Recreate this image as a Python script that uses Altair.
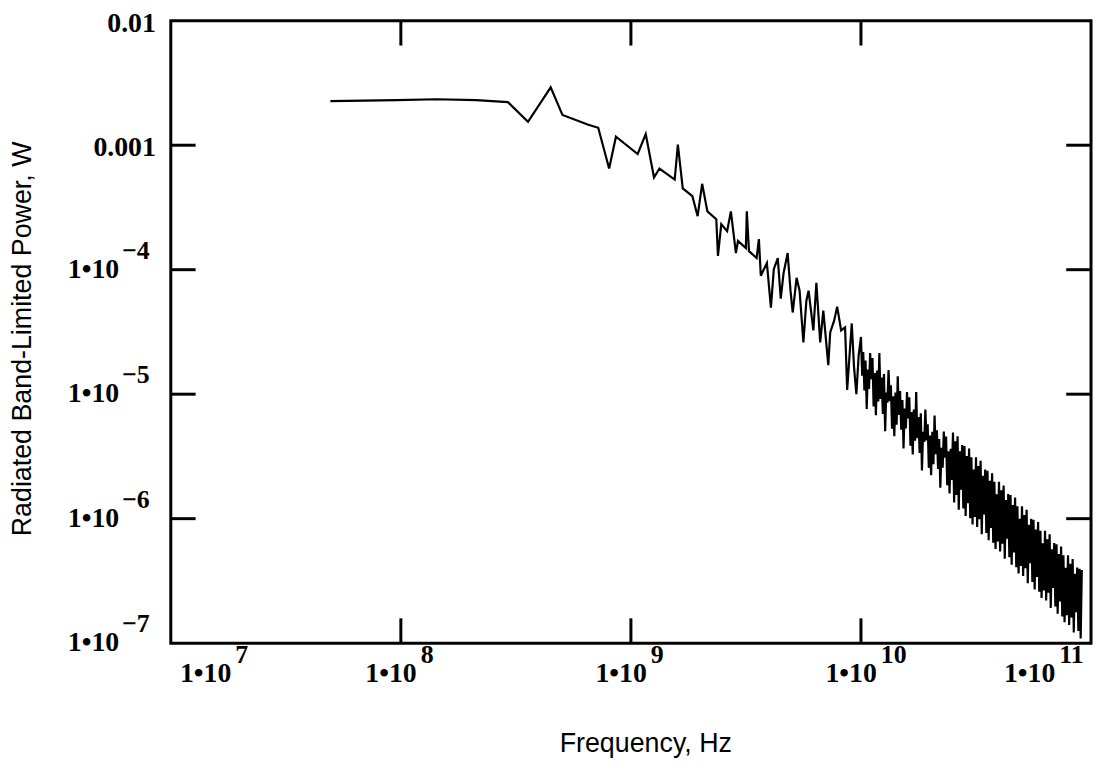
import altair as alt
import pandas as pd

# ---------------- data ----------------
# smooth low-frequency part of the trace
freq_low = [4.94e7, 9.6e7, 1.43e8, 2.13e8, 2.92e8, 3.57e8, 4.48e8, 5.04e8, 6.53e8, 7.21e8,
            8.04e8, 8.61e8, 1.07e9, 1.16e9, 1.26e9, 1.33e9, 1.55e9, 1.60e9, 1.68e9, 1.85e9,
            1.95e9, 2.04e9, 2.15e9, 2.35e9, 2.39e9, 2.47e9, 2.62e9, 2.72e9, 2.86e9, 2.92e9,
            3.16e9, 3.19e9]
power_low = [2.26e-3, 2.30e-3, 2.34e-3, 2.30e-3, 2.22e-3, 1.54e-3, 2.92e-3, 1.75e-3, 1.46e-3, 1.38e-3,
             6.5e-4, 1.17e-3, 8.5e-4, 1.23e-3, 5.5e-4, 6.5e-4, 5.3e-4, 1.01e-3, 4.5e-4, 3.9e-4,
             2.69e-4, 4.9e-4, 2.94e-4, 2.54e-4, 1.29e-4, 2.32e-4, 2.04e-4, 2.94e-4, 1.36e-4, 1.70e-4,
             1.49e-4, 2.94e-4]

# spiky middle part
freq_mid = [3.26e9, 3.52e9, 3.60e9, 3.67e9, 3.90e9, 4.06e9, 4.18e9, 4.35e9, 4.48e9, 4.61e9,
            4.80e9, 4.94e9, 5.05e9, 5.25e9, 5.41e9, 5.62e9, 5.79e9, 5.92e9, 6.21e9, 6.40e9,
            6.65e9, 6.86e9, 7.21e9, 7.35e9, 7.65e9, 7.88e9, 8.20e9, 8.53e9, 8.71e9,
            9.12e9, 9.33e9, 9.55e9, 9.77e9]
power_mid = [1.41e-4, 1.24e-4, 1.76e-4, 8.93e-5, 1.13e-4, 4.96e-5, 1.01e-4, 1.24e-4, 5.85e-5, 9.42e-5,
             1.36e-4, 6.78e-5, 4.53e-5, 8.61e-5, 6.78e-5, 2.61e-5, 5.64e-5, 6.78e-5, 3.25e-5, 7.85e-5,
             2.61e-5, 4.69e-5, 1.71e-5, 3.13e-5, 3.91e-5, 5.05e-5, 3.25e-5, 3.44e-5, 1.08e-5,
             3.70e-5, 1.65e-5, 1.00e-5, 2.04e-5]

# thick oscillating band, 10 GHz - 25 GHz
freq_high = [1.000e10, 1.012e10, 1.023e10, 1.035e10, 1.047e10, 1.059e10, 1.072e10, 1.084e10, 1.096e10, 1.109e10,
             1.122e10, 1.135e10, 1.148e10, 1.161e10, 1.175e10, 1.189e10, 1.202e10, 1.216e10, 1.230e10, 1.245e10,
             1.259e10, 1.274e10, 1.288e10, 1.303e10, 1.318e10, 1.334e10, 1.349e10, 1.365e10, 1.380e10, 1.396e10,
             1.413e10, 1.429e10, 1.445e10, 1.462e10, 1.479e10, 1.496e10, 1.514e10, 1.531e10, 1.549e10, 1.567e10,
             1.585e10, 1.603e10, 1.622e10, 1.641e10, 1.660e10, 1.679e10, 1.698e10, 1.718e10, 1.738e10, 1.758e10,
             1.778e10, 1.799e10, 1.820e10, 1.841e10, 1.862e10, 1.884e10, 1.905e10, 1.928e10, 1.950e10, 1.972e10,
             1.995e10, 2.018e10, 2.042e10, 2.065e10, 2.089e10, 2.113e10, 2.138e10, 2.163e10, 2.188e10, 2.213e10,
             2.239e10, 2.265e10, 2.291e10, 2.317e10, 2.344e10, 2.371e10, 2.399e10, 2.427e10, 2.455e10, 2.483e10]
power_high = [2.88e-5, 1.41e-5, 2.18e-5, 1.07e-5, 1.86e-5, 7.59e-6, 1.58e-5, 1.10e-5,
              2.14e-5, 1.32e-5, 1.95e-5, 7.96e-6, 1.48e-5, 6.78e-6, 1.55e-5, 8.73e-6,
              2.14e-5, 9.16e-6, 1.36e-5, 6.95e-6, 1.45e-5, 5.04e-6, 1.03e-5, 8.55e-6,
              1.56e-5, 8.77e-6, 1.18e-5, 5.28e-6, 9.62e-6, 4.60e-6, 1.03e-5, 5.68e-6,
              1.39e-5, 6.82e-6, 1.06e-5, 5.18e-6, 8.99e-6, 3.67e-6, 7.67e-6, 5.31e-6,
              1.04e-5, 6.38e-6, 9.44e-6, 3.85e-6, 7.18e-6, 3.28e-6, 7.52e-6, 4.23e-6,
              1.04e-5, 4.43e-6, 6.55e-6, 3.37e-6, 7.03e-6, 2.44e-6, 4.98e-6, 4.14e-6,
              7.53e-6, 4.25e-6, 5.73e-6, 2.56e-6, 4.66e-6, 2.23e-6, 4.99e-6, 2.74e-6,
              6.75e-6, 3.30e-6, 5.12e-6, 2.51e-6, 4.36e-6, 1.77e-6, 3.71e-6, 2.57e-6,
              5.01e-6, 3.09e-6, 4.57e-6, 1.86e-6, 3.47e-6, 1.59e-6, 3.64e-6, 2.05e-6]

# dense band, 25 GHz - 91 GHz
freq_tail = [2.512e10, 2.541e10, 2.570e10, 2.600e10, 2.630e10, 2.661e10, 2.692e10, 2.723e10, 2.754e10, 2.786e10,
             2.818e10, 2.851e10, 2.884e10, 2.917e10, 2.951e10, 2.985e10, 3.020e10, 3.055e10, 3.090e10, 3.126e10,
             3.162e10, 3.199e10, 3.236e10, 3.273e10, 3.311e10, 3.350e10, 3.388e10, 3.428e10, 3.467e10, 3.508e10,
             3.548e10, 3.589e10, 3.631e10, 3.673e10, 3.715e10, 3.758e10, 3.802e10, 3.846e10, 3.890e10, 3.936e10,
             3.981e10, 4.027e10, 4.074e10, 4.121e10, 4.169e10, 4.217e10, 4.266e10, 4.315e10, 4.365e10, 4.416e10,
             4.467e10, 4.519e10, 4.571e10, 4.624e10, 4.677e10, 4.732e10, 4.786e10, 4.842e10, 4.898e10, 4.955e10,
             5.012e10, 5.070e10, 5.129e10, 5.188e10, 5.248e10, 5.309e10, 5.370e10, 5.433e10, 5.495e10, 5.559e10,
             5.623e10, 5.689e10, 5.754e10, 5.821e10, 5.888e10, 5.957e10, 6.026e10, 6.095e10, 6.166e10, 6.237e10,
             6.310e10, 6.383e10, 6.457e10, 6.531e10, 6.607e10, 6.683e10, 6.761e10, 6.839e10, 6.918e10, 6.998e10,
             7.079e10, 7.161e10, 7.244e10, 7.328e10, 7.413e10, 7.499e10, 7.586e10, 7.674e10, 7.762e10, 7.852e10,
             7.943e10, 8.035e10, 8.128e10, 8.222e10, 8.318e10, 8.414e10, 8.511e10, 8.610e10, 8.710e10, 8.810e10,
             8.913e10, 9.016e10, 9.120e10]
power_tail = [4.91e-6, 1.35e-6, 4.18e-6, 1.55e-6, 4.59e-6, 1.18e-6, 3.48e-6, 1.71e-6, 3.91e-6, 1.21e-6,
              3.83e-6, 1.05e-6, 3.18e-6, 1.33e-6, 3.66e-6, 1.01e-6, 3.11e-6, 8.99e-7, 2.48e-6, 1.03e-6,
              3.12e-6, 8.59e-7, 2.65e-6, 9.89e-7, 2.92e-6, 7.50e-7, 2.21e-6, 1.08e-6, 2.48e-6, 7.69e-7,
              2.43e-6, 6.70e-7, 2.02e-6, 8.43e-7, 2.32e-6, 6.41e-7, 1.98e-6, 5.71e-7, 1.57e-6, 6.56e-7,
              1.98e-6, 5.46e-7, 1.69e-6, 6.28e-7, 1.85e-6, 4.76e-7, 1.41e-6, 6.89e-7, 1.58e-6, 4.89e-7,
              1.55e-6, 4.26e-7, 1.29e-6, 5.36e-7, 1.48e-6, 4.07e-7, 1.26e-6, 3.63e-7, 1.00e-6, 4.17e-7,
              1.26e-6, 3.47e-7, 1.07e-6, 3.99e-7, 1.18e-6, 3.03e-7, 8.93e-7, 4.38e-7, 1.00e-6, 3.10e-7,
              9.82e-7, 2.70e-7, 8.17e-7, 3.40e-7, 9.38e-7, 2.59e-7, 8.00e-7, 2.31e-7, 6.35e-7, 2.65e-7,
              8.00e-7, 2.20e-7, 6.82e-7, 2.54e-7, 7.48e-7, 1.92e-7, 5.68e-7, 2.78e-7, 6.37e-7, 1.97e-7,
              6.24e-7, 1.72e-7, 5.19e-7, 2.16e-7, 5.96e-7, 1.64e-7, 5.08e-7, 1.47e-7, 4.04e-7, 1.68e-7,
              5.08e-7, 1.40e-7, 4.34e-7, 1.61e-7, 4.75e-7, 1.22e-7, 3.61e-7, 1.77e-7, 4.05e-7, 1.25e-7,
              3.96e-7, 1.09e-7, 3.87e-7]

# axis ticks / labels
x_ticks = [1e7, 1e8, 1e9, 1e10, 1e11]
x_exponents = ["7", "8", "9", "10", "11"]
y_ticks = [1e-2, 1e-3, 1e-4, 1e-5, 1e-6, 1e-7]
y_plain_labels = ["0.01", "0.001", "", "", "", ""]
y_exponents = ["", "", "\u22124", "\u22125", "\u22126", "\u22127"]
x_title = "Frequency, Hz"
y_title = "Radiated Band-Limited Power, W"

# ---------------- build tables ----------------
freqs = freq_low + freq_mid + freq_high + freq_tail
powers = power_low + power_mid + power_high + power_tail
df = pd.DataFrame({"freq": freqs, "power": powers})
df["idx"] = range(len(df))

xt = pd.DataFrame({"v": x_ticks, "exp": x_exponents})
yt = pd.DataFrame({"v": y_ticks, "plain": y_plain_labels, "exp": y_exponents})

W, H = 927, 627
TICK = 25
SERIF = "Liberation Serif"
SANS = "Liberation Sans"
LFS = 28

xs = alt.Scale(type="log", domain=[1e7, 1e11], nice=False)
ys = alt.Scale(type="log", domain=[1e-7, 1e-2], nice=False)

line = alt.Chart(df).mark_line(color="black", strokeWidth=2.2, clip=True).encode(
    x=alt.X("freq:Q", scale=xs,
            axis=alt.Axis(title=x_title, labels=False, ticks=False, domain=False, grid=False,
                          titleFont=SANS, titleFontSize=27, titleFontWeight="normal",
                          titleColor="black", titleX=478, titleY=101,
                          titleAlign="center", titleBaseline="middle")),
    y=alt.Y("power:Q", scale=ys,
            axis=alt.Axis(title=y_title, labels=False, ticks=False, domain=False, grid=False,
                          titleFont=SANS, titleFontSize=27, titleFontWeight="normal",
                          titleColor="black", titleX=-149, titleY=320, titleAngle=-90,
                          titleAlign="center", titleBaseline="middle")),
    order="idx:Q",
)

inner_x = alt.Chart(xt).transform_filter("datum.v > 1e7 && datum.v < 1e11")
inner_y = alt.Chart(yt).transform_filter("datum.v > 1e-7 && datum.v < 1e-2")

tick_bottom = inner_x.mark_rule(color="black", strokeWidth=3).encode(
    x=alt.X("v:Q", scale=xs), y=alt.value(H), y2=alt.value(H - TICK))
tick_top = inner_x.mark_rule(color="black", strokeWidth=3).encode(
    x=alt.X("v:Q", scale=xs), y=alt.value(0), y2=alt.value(TICK))
tick_left = inner_y.mark_rule(color="black", strokeWidth=3).encode(
    y=alt.Y("v:Q", scale=ys), x=alt.value(0), x2=alt.value(TICK))
tick_right = inner_y.mark_rule(color="black", strokeWidth=3).encode(
    y=alt.Y("v:Q", scale=ys), x=alt.value(W), x2=alt.value(W - TICK))


def xlabel(filt, dx_base):
    base = alt.Chart(xt).transform_filter(filt)
    b = base.mark_text(text="1\u202210", font=SERIF, fontSize=LFS, fontWeight="bold",
                       align="right", baseline="middle", dx=dx_base, color="black").encode(
        x=alt.X("v:Q", scale=xs), y=alt.value(H + 31))
    e = base.mark_text(font=SERIF, fontSize=LFS - 2, fontWeight="bold",
                       align="left", baseline="middle", dx=dx_base + 4, color="black").encode(
        x=alt.X("v:Q", scale=xs), y=alt.value(H + 12), text="exp:N")
    return [b, e]


xl = []
xl += xlabel("datum.v == 1e7", 61)
xl += xlabel("datum.v > 1e7 && datum.v < 1e11", 16)
xl += xlabel("datum.v == 1e11", -36)

yplain = alt.Chart(yt).transform_filter("datum.plain != ''").mark_text(
    font=SERIF, fontSize=LFS, fontWeight="bold", align="right", baseline="middle", dy=3,
    color="black"
).encode(y=alt.Y("v:Q", scale=ys), x=alt.value(-15), text="plain:N")

ybase_src = alt.Chart(yt).transform_filter("datum.exp != ''")
ybase = ybase_src.mark_text(text="1\u202210", font=SERIF, fontSize=LFS, fontWeight="bold",
                            align="right", baseline="middle", color="black").encode(
    y=alt.Y("v:Q", scale=ys), x=alt.value(-52))
yexp = ybase_src.mark_text(font=SERIF, fontSize=LFS - 2, fontWeight="bold",
                           align="left", baseline="middle", dy=-19, color="black").encode(
    y=alt.Y("v:Q", scale=ys), x=alt.value(-49), text="exp:N")

chart = alt.layer(line, tick_bottom, tick_top, tick_left, tick_right, *xl, yplain, ybase, yexp).properties(
    width=W, height=H,
    autosize=alt.AutoSizeParams(type="none"),
    padding={"left": 164, "top": 10, "right": 3, "bottom": 130},
    background="white",
).configure_view(stroke="black", strokeWidth=3)

chart.save("out.html", embed_options={"renderer": "svg", "actions": False})
